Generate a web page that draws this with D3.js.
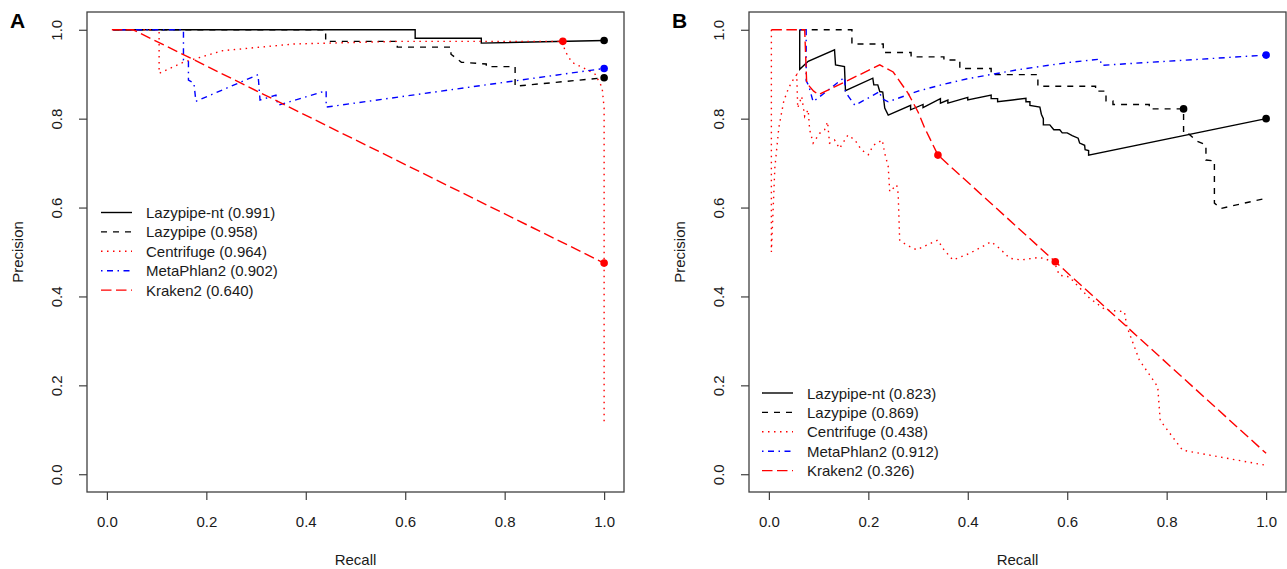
<!DOCTYPE html>
<html><head><meta charset="utf-8">
<script src="https://cdn.jsdelivr.net/npm/d3@7"></script>
<style>
body{margin:0;background:#fff;}
svg{display:block;font-family:"Liberation Sans",Arial,Helvetica,sans-serif;}
</style></head>
<body><svg id="chart" width="1287" height="569"></svg>
<script>
// ---------- data ----------
const tickValues = [0, 0.2, 0.4, 0.6, 0.8, 1.0];
const seriesNames = ["Lazypipe-nt", "Lazypipe", "Centrifuge", "MetaPhlan2", "Kraken2"];
const seriesColors = ["#000000", "#000000", "#ff0000", "#0000ff", "#ff0000"];
const seriesDash = ["none", "6,6", "1.5,4.5", "1.5,4.5,6,4.5", "10.5,4.5"];
const aucA = ["0.991", "0.958", "0.964", "0.902", "0.640"];
const aucB = ["0.823", "0.869", "0.438", "0.912", "0.326"];

// Panel A curves: [recall, precision]
const lazypipeNtA = [[0.013,1],[0.62,1],[0.62,0.981],[0.753,0.981],[0.753,0.97],[1.0,0.976]];
const lazypipeA = [[0.013,1],[0.44,1],[0.44,0.974],[0.584,0.974],[0.584,0.961],[0.692,0.961],[0.692,0.945],
  [0.713,0.927],[0.763,0.923],[0.763,0.917],[0.821,0.917],[0.821,0.873],[1.0,0.892]];
const centrifugeA = [[0.013,1],[0.105,1],[0.105,0.902],[0.154,0.927],[0.233,0.953],[0.376,0.968],[0.59,0.974],
  [0.917,0.974],[0.921,0.953],[0.935,0.927],[0.964,0.911],[0.982,0.9],[0.996,0.87],[1.0,0.824],[1.0,0.11]];
const metaphlanA = [[0.013,1],[0.154,1],[0.154,0.932],[0.164,0.928],[0.164,0.887],[0.175,0.88],[0.179,0.839],
  [0.304,0.899],[0.308,0.842],[0.34,0.853],[0.344,0.83],[0.441,0.863],[0.441,0.826],[1.0,0.913]];
const kraken2A = [[0.01,1],[0.053,1],[1.0,0.475]];
const dotsA = [[1.0,0.976,0],[1.0,0.892,1],[0.917,0.974,2],[1.0,0.913,3],[1.0,0.475,4]];

// Panel B curves
const lazypipeNtB = [[0.062,1],[0.062,0.911],[0.079,0.929],[0.132,0.955],[0.134,0.921],[0.152,0.917],[0.154,0.863],
  [0.209,0.891],[0.211,0.876],[0.219,0.876],[0.223,0.861],[0.229,0.86],[0.233,0.824],[0.24,0.808],
  [0.285,0.83],[0.285,0.82],[0.31,0.832],[0.31,0.825],[0.345,0.845],[0.345,0.835],[0.36,0.842],[0.36,0.835],
  [0.4,0.848],[0.4,0.842],[0.447,0.853],[0.447,0.845],[0.46,0.845],[0.46,0.838],[0.49,0.842],[0.517,0.846],
  [0.517,0.838],[0.525,0.838],[0.525,0.83],[0.545,0.826],[0.548,0.81],[0.552,0.8],[0.552,0.786],[0.565,0.786],
  [0.573,0.775],[0.585,0.775],[0.59,0.768],[0.6,0.768],[0.61,0.762],[0.622,0.756],[0.625,0.745],[0.635,0.74],
  [0.636,0.73],[0.643,0.728],[0.643,0.718],[1.0,0.8]];
const lazypipeB = [[0.062,1],[0.167,1],[0.167,0.968],[0.23,0.968],[0.23,0.949],[0.286,0.949],[0.286,0.939],
  [0.352,0.939],[0.352,0.932],[0.384,0.932],[0.384,0.913],[0.447,0.913],[0.447,0.899],[0.541,0.899],[0.541,0.873],
  [0.657,0.873],[0.657,0.862],[0.678,0.862],[0.678,0.84],[0.692,0.84],[0.692,0.832],[0.765,0.832],[0.765,0.822],
  [0.834,0.822],[0.834,0.767],[0.845,0.765],[0.86,0.75],[0.879,0.741],[0.879,0.707],[0.896,0.705],[0.896,0.61],
  [0.909,0.598],[1.0,0.621]];
const centrifugeB = [[0.005,1],[0.005,0.5],[0.012,0.69],[0.02,0.78],[0.03,0.84],[0.04,0.87],[0.05,0.89],[0.056,0.899],
  [0.058,0.824],[0.066,0.85],[0.072,0.805],[0.079,0.82],[0.082,0.775],[0.089,0.745],[0.102,0.767],[0.112,0.775],
  [0.118,0.793],[0.122,0.745],[0.132,0.752],[0.142,0.733],[0.159,0.763],[0.173,0.752],[0.186,0.73],[0.2,0.719],
  [0.21,0.74],[0.228,0.752],[0.233,0.722],[0.24,0.692],[0.243,0.636],[0.257,0.651],[0.26,0.632],[0.263,0.527],
  [0.276,0.516],[0.297,0.505],[0.34,0.527],[0.35,0.508],[0.37,0.482],[0.404,0.497],[0.447,0.523],[0.464,0.508],
  [0.484,0.486],[0.507,0.482],[0.544,0.488],[0.574,0.478],[0.584,0.448],[0.604,0.444],[0.645,0.396],[0.678,0.369],
  [0.715,0.366],[0.72,0.332],[0.745,0.257],[0.782,0.197],[0.787,0.121],[0.832,0.054],[1.0,0.02]];
const metaphlanB = [[0.062,1],[0.075,1],[0.075,0.885],[0.08,0.875],[0.089,0.838],[0.152,0.893],[0.154,0.861],
  [0.16,0.85],[0.173,0.83],[0.223,0.861],[0.226,0.846],[0.24,0.838],[0.3,0.862],[0.35,0.877],[0.4,0.89],
  [0.45,0.9],[0.5,0.91],[0.55,0.918],[0.6,0.926],[0.666,0.934],[0.669,0.92],[1.0,0.943]];
const kraken2B = [[0.005,1],[0.072,1],[0.076,0.88],[0.09,0.862],[0.1,0.854],[0.223,0.921],[0.25,0.905],
  [0.28,0.857],[0.3,0.815],[0.313,0.78],[0.34,0.718],[0.576,0.478],[1.0,0.047]];
const dotsB = [[1.0,0.8,0],[0.834,0.822,1],[1.0,0.943,3],[0.34,0.718,4],[0.576,0.478,4]];

// ---------- drawing ----------
const svg = d3.select("#chart");
const textCol = "#1a1a1a", axisCol = "#404040";

function panel(opts) {
  const {left, right, top, bottom, letter, curves, dots, auc, legendX, legendY} = opts;
  const x = d3.scaleLinear().domain([-0.04, 1.04]).range([left, right]);
  const y = d3.scaleLinear().domain([-0.04, 1.04]).range([bottom, top]);
  const g = svg.append("g");

  // x axis
  const xa = g.append("g").attr("transform", `translate(0,${bottom})`)
    .call(d3.axisBottom(x).tickValues(tickValues).tickFormat(d3.format(".1f")).tickSize(8).tickPadding(16).tickSizeOuter(0));
  xa.select(".domain").remove();
  xa.selectAll("line").attr("stroke", axisCol).attr("stroke-width", 1.2);
  xa.selectAll("text").attr("font-size", 15).attr("fill", textCol).attr("font-family", "Liberation Sans, Arial, sans-serif");

  // y axis
  const ya = g.append("g").attr("transform", `translate(${left},0)`)
    .call(d3.axisLeft(y).tickValues(tickValues).tickFormat(d3.format(".1f")).tickSize(8).tickSizeOuter(0));
  ya.select(".domain").remove();
  ya.selectAll("line").attr("stroke", axisCol).attr("stroke-width", 1.2);
  ya.selectAll("text").attr("font-size", 15).attr("fill", textCol).attr("font-family", "Liberation Sans, Arial, sans-serif")
    .attr("x", 0).attr("y", -25).attr("dy", 0).attr("text-anchor", "middle").attr("transform", "rotate(-90)");

  // box
  g.append("rect").attr("x", left).attr("y", top).attr("width", right - left).attr("height", bottom - top)
    .attr("fill", "none").attr("stroke", axisCol).attr("stroke-width", 1.3);

  // labels
  g.append("text").attr("x", (left + right) / 2).attr("y", 565).attr("text-anchor", "middle")
    .attr("font-size", 15).attr("fill", textCol).text("Recall");
  g.append("text").attr("transform", `translate(${left - 64},${(top + bottom) / 2}) rotate(-90)`)
    .attr("text-anchor", "middle").attr("font-size", 15).attr("fill", textCol).text("Precision");
  g.append("text").attr("x", left - 77).attr("y", 28).attr("font-size", 21).attr("font-weight", "bold")
    .attr("fill", "#000").text(letter);

  // curves
  const line = d3.line().x(d => x(d[0])).y(d => y(d[1]));
  curves.forEach((c, i) => {
    g.append("path").datum(c).attr("d", line).attr("fill", "none")
      .attr("stroke", seriesColors[i]).attr("stroke-width", 1.4)
      .attr("stroke-dasharray", seriesDash[i]);
  });
  // dots
  g.selectAll("circle.pt").data(dots).join("circle").attr("class", "pt")
    .attr("cx", d => x(d[0])).attr("cy", d => y(d[1])).attr("r", 3.8)
    .attr("fill", d => seriesColors[d[2]]);

  // legend
  seriesNames.forEach((n, i) => {
    const yy = legendY + i * 19.4;
    g.append("line").attr("x1", legendX).attr("x2", legendX + 31).attr("y1", yy).attr("y2", yy)
      .attr("stroke", seriesColors[i]).attr("stroke-width", 1.4).attr("stroke-dasharray", seriesDash[i]);
    g.append("text").attr("x", legendX + 45).attr("y", yy + 5.5).attr("font-size", 15).attr("fill", textCol)
      .text(`${n} (${auc[i]})`);
  });
}

panel({left: 87, right: 624, top: 12, bottom: 492, letter: "A",
  curves: [lazypipeNtA, lazypipeA, centrifugeA, metaphlanA, kraken2A], dots: dotsA, auc: aucA,
  legendX: 101, legendY: 212.5});
panel({left: 749, right: 1286, top: 12, bottom: 492, letter: "B",
  curves: [lazypipeNtB, lazypipeB, centrifugeB, metaphlanB, kraken2B], dots: dotsB, auc: aucB,
  legendX: 762, legendY: 393});
</script></body></html>
